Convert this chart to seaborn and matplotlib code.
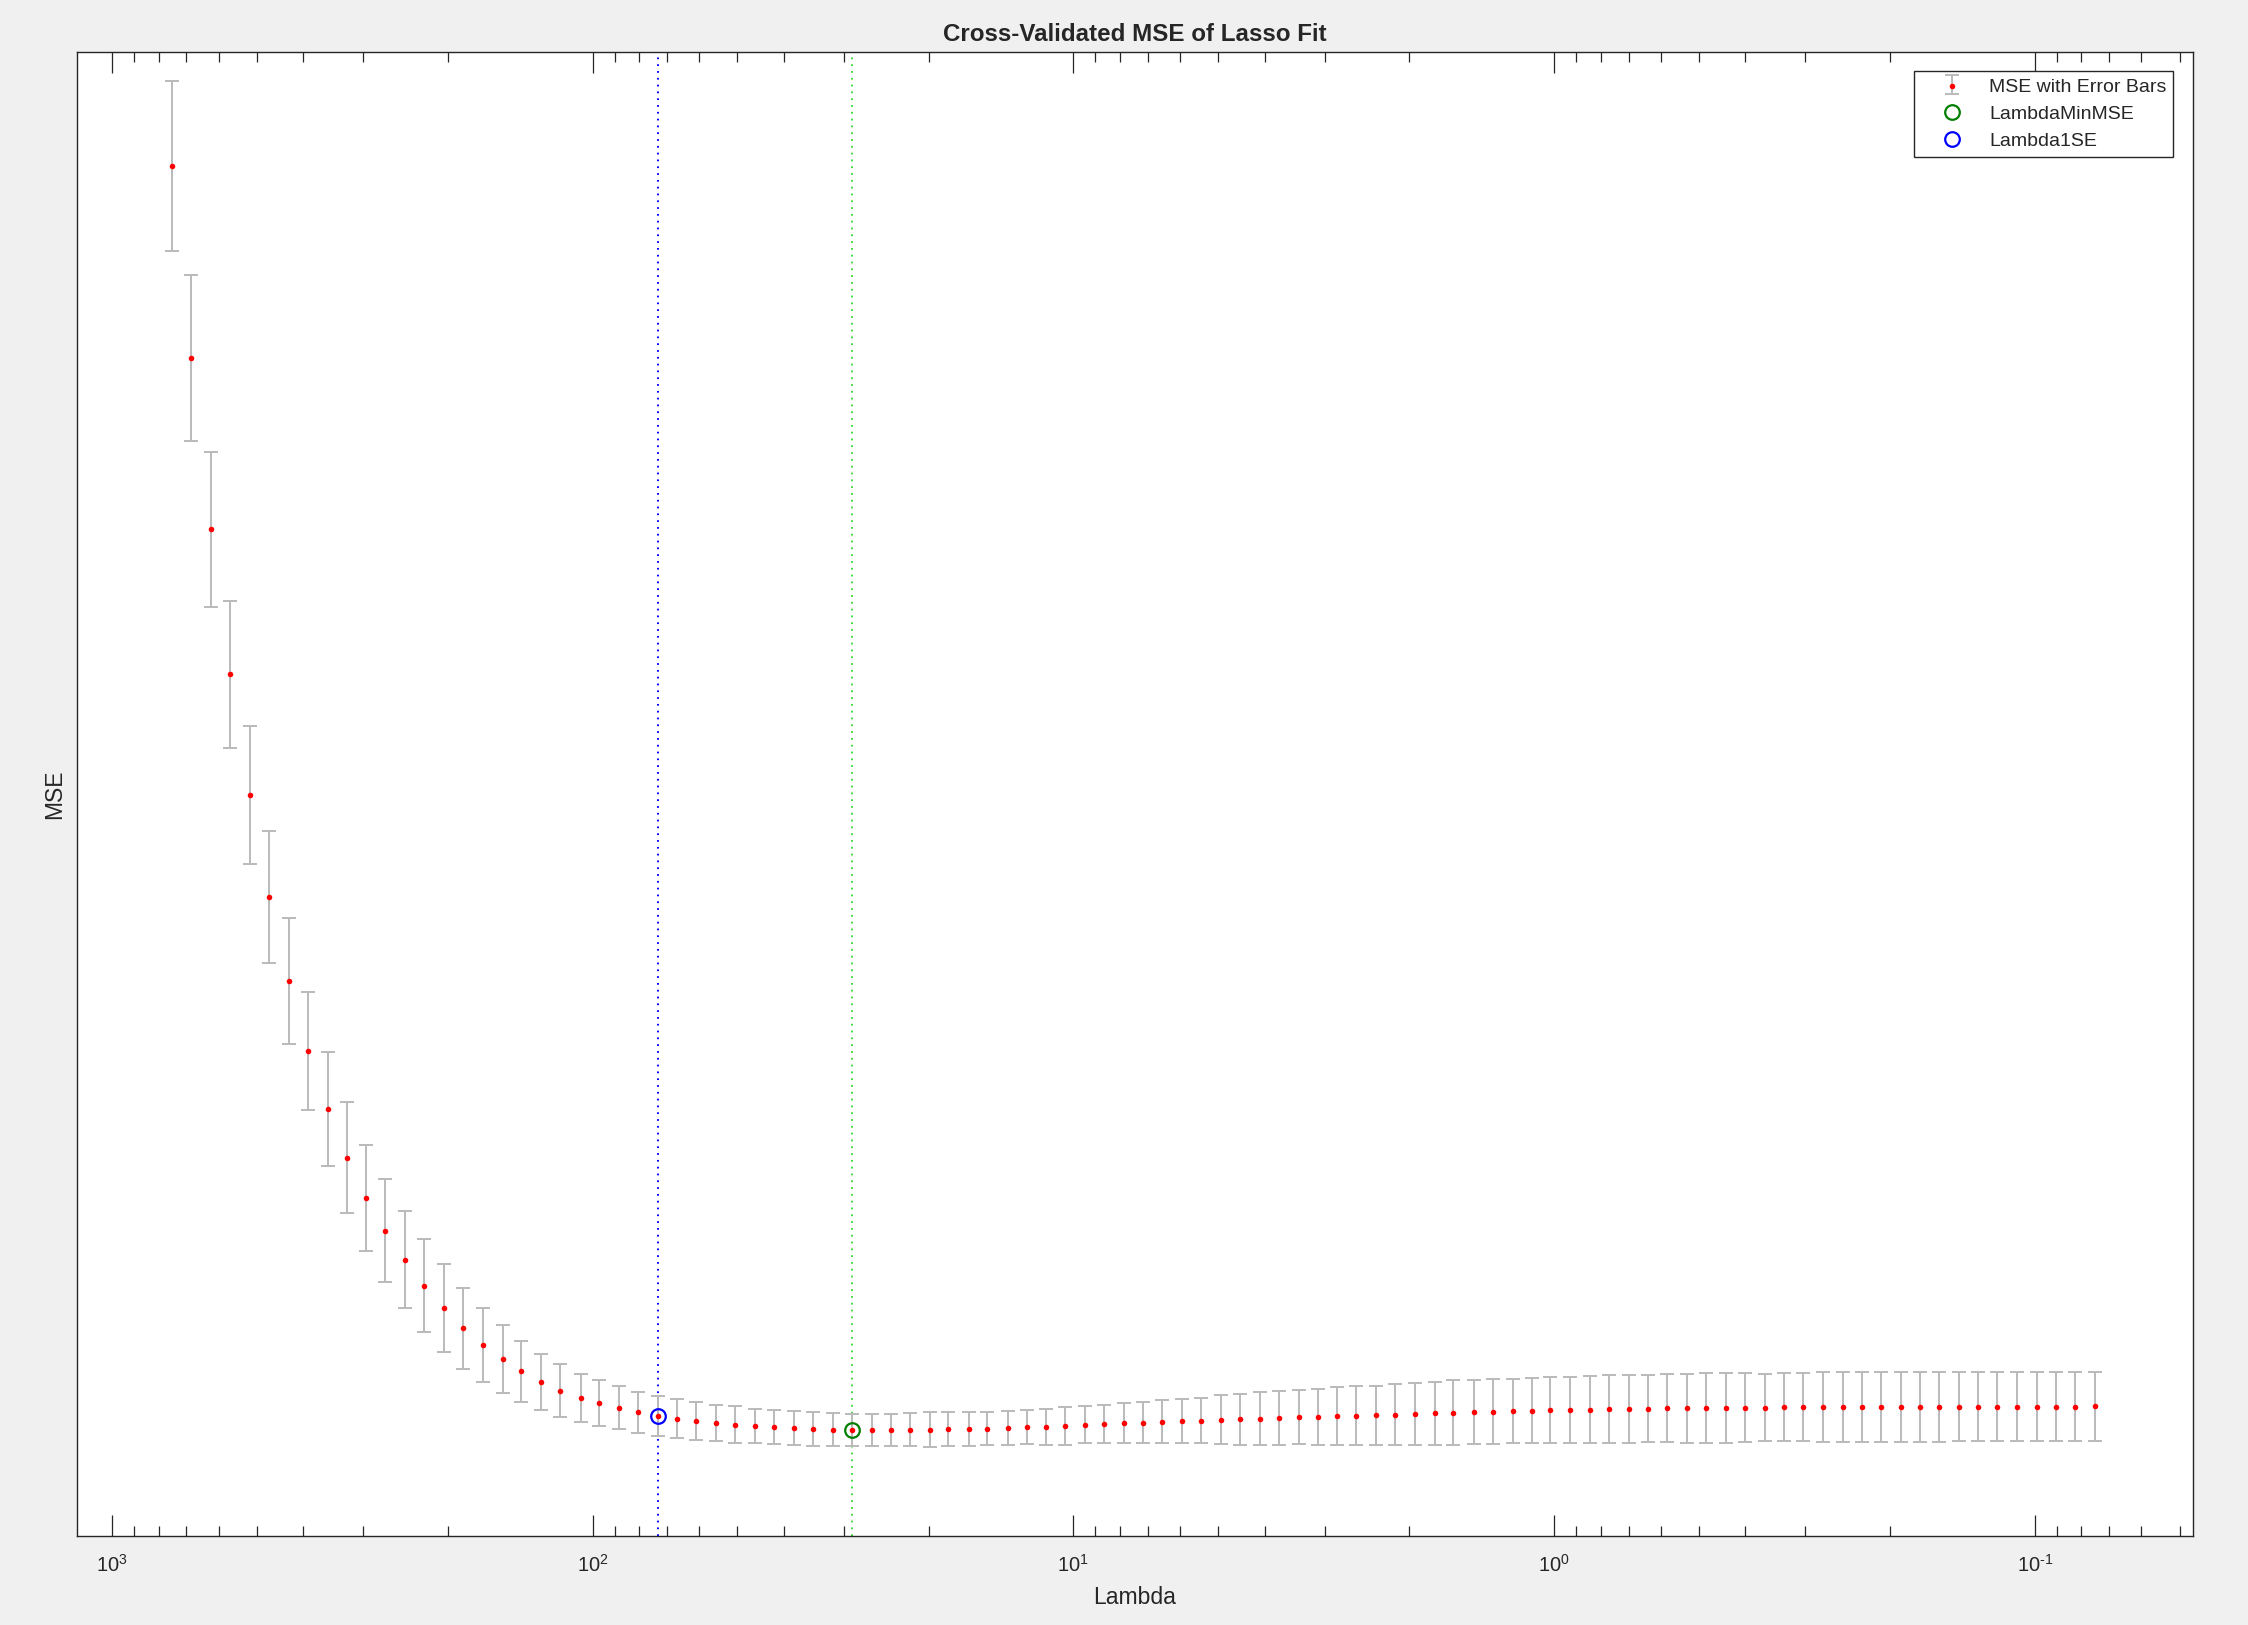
import matplotlib
matplotlib.use("Agg")
import matplotlib.pyplot as plt
from matplotlib.ticker import FuncFormatter
import seaborn as sns
import numpy as np

# Lambda grid (x) and cross-validated MSE with standard errors
lambdas = [750, 684, 623, 568, 517, 471, 429, 391, 356, 325,
           296, 270, 246, 224, 204, 186, 169, 154, 141, 128,
           117, 106, 96.9, 88.3, 80.5, 73.3, 66.8, 60.9, 55.5, 50.5,
           46.0, 42.0, 38.2, 34.8, 31.7, 28.9, 26.3, 24.0, 21.9, 19.9,
           18.2, 16.5, 15.1, 13.7, 12.5, 11.4, 10.4, 9.47, 8.63, 7.86,
           7.16, 6.53, 5.95, 5.42, 4.94, 4.50, 4.10, 3.74, 3.40, 3.10,
           2.83, 2.58, 2.35, 2.14, 1.95, 1.77, 1.62, 1.47, 1.34, 1.22,
           1.11, 1.02, 0.925, 0.843, 0.768, 0.700, 0.638, 0.581, 0.529, 0.482,
           0.440, 0.401, 0.365, 0.333, 0.303, 0.276, 0.251, 0.229, 0.209, 0.190,
           0.173, 0.158, 0.144, 0.131, 0.120, 0.109, 0.0992, 0.0905, 0.0824, 0.0751]

mse = [9.840, 8.504, 7.309, 6.296, 5.454, 4.745, 4.157, 3.668, 3.262, 2.925,
       2.646, 2.416, 2.214, 2.030, 1.877, 1.735, 1.619, 1.523, 1.435, 1.360,
       1.300, 1.251, 1.212, 1.179, 1.149, 1.123, 1.105, 1.088, 1.075, 1.063,
       1.052, 1.044, 1.037, 1.033, 1.028, 1.025, 1.026, 1.026, 1.028, 1.028,
       1.030, 1.033, 1.035, 1.040, 1.044, 1.047, 1.054, 1.063, 1.068, 1.072,
       1.077, 1.082, 1.086, 1.091, 1.096, 1.100, 1.105, 1.110, 1.114, 1.117,
       1.121, 1.126, 1.128, 1.133, 1.137, 1.142, 1.147, 1.151, 1.154, 1.158,
       1.161, 1.163, 1.165, 1.168, 1.170, 1.172, 1.175, 1.177, 1.177, 1.179,
       1.179, 1.182, 1.182, 1.184, 1.184, 1.186, 1.186, 1.186, 1.186, 1.186,
       1.186, 1.186, 1.189, 1.189, 1.189, 1.189, 1.189, 1.189, 1.189, 1.191]

se = [0.592, 0.580, 0.541, 0.512, 0.482, 0.460, 0.438, 0.414, 0.398, 0.386,
      0.369, 0.358, 0.341, 0.324, 0.306, 0.284, 0.259, 0.237, 0.214, 0.197,
      0.185, 0.168, 0.162, 0.150, 0.144, 0.140, 0.133, 0.133, 0.127, 0.127,
      0.120, 0.120, 0.120, 0.120, 0.114, 0.114, 0.114, 0.114, 0.114, 0.120,
      0.120, 0.120, 0.114, 0.120, 0.120, 0.126, 0.131, 0.132, 0.132, 0.138,
      0.143, 0.149, 0.155, 0.160, 0.172, 0.178, 0.184, 0.190, 0.190, 0.195,
      0.201, 0.207, 0.207, 0.213, 0.219, 0.219, 0.224, 0.224, 0.230, 0.225,
      0.225, 0.231, 0.231, 0.231, 0.236, 0.236, 0.236, 0.236, 0.242, 0.242,
      0.242, 0.242, 0.236, 0.236, 0.236, 0.242, 0.242, 0.242, 0.242, 0.242,
      0.242, 0.242, 0.242, 0.242, 0.242, 0.242, 0.242, 0.242, 0.242, 0.242]

# Style
sns.set_theme(style="white")
plt.rcParams['font.family'] = ['Liberation Sans', 'DejaVu Sans']
plt.rcParams['mathtext.fontset'] = 'custom'
plt.rcParams['mathtext.rm'] = 'Liberation Sans'
plt.rcParams['mathtext.it'] = 'Liberation Sans:italic'
plt.rcParams['mathtext.bf'] = 'Liberation Sans:bold'

# LambdaMinMSE and Lambda1SE
i_min = int(np.argmin(mse))
thresh = mse[i_min] + se[i_min]
i_1se = min(i for i in range(len(mse)) if mse[i] <= thresh)

fig = plt.figure(figsize=(22.48, 16.25), dpi=100, facecolor='#f0f0f0')
ax = fig.add_axes([0.0343, 0.0548, 0.9412, 0.9134])
ax.set_facecolor('white')

eb = ax.errorbar(lambdas, mse, yerr=se, fmt='none', ecolor='#bababa',
                 elinewidth=1.4, capsize=5, capthick=1.4, zorder=2)
dots = sns.scatterplot(x=lambdas, y=mse, ax=ax, color='#ff0000', s=16,
                       linewidth=0, zorder=3).collections[-1]

ax.axvline(lambdas[i_min], color='#3cd83c', lw=1.4, ls=(0, (0.9, 2.6)), zorder=1)
ax.axvline(lambdas[i_1se], color='#0000ff', lw=1.4, ls=(0, (0.9, 2.6)), zorder=1)
h_min, = ax.plot(lambdas[i_min], mse[i_min], 'o', mfc='none', mec='#007f00',
                 ms=10.5, mew=1.6, zorder=4)
h_1se, = ax.plot(lambdas[i_1se], mse[i_1se], 'o', mfc='none', mec='#0000ff',
                 ms=10.5, mew=1.6, zorder=4)

ax.set_xscale('log')
ax.set_xlim(1181.6, 0.0469)
ax.set_ylim(0.286, 10.64)
ax.set_yticks([])


def dec_label(v, pos):
    e = int(round(np.log10(v)))
    exp = r'\text{-}%d' % (-e) if e < 0 else '%d' % e
    return r'$\mathdefault{10^{%s}}$' % exp


ax.xaxis.set_major_formatter(FuncFormatter(dec_label))

for s in ax.spines.values():
    s.set_color('#262626')
    s.set_linewidth(1.0)
ax.tick_params(axis='x', which='both', direction='in', top=True, bottom=True,
               color='#262626', labelsize=14.5, pad=13, labelcolor='#262626')
ax.tick_params(axis='x', which='major', length=15, width=0.9)
ax.tick_params(axis='x', which='minor', length=7.5, width=0.9)

ax.set_title('Cross-Validated MSE of Lasso Fit', fontsize=17.4, fontweight='bold', pad=8)
ax.set_xlabel('Lambda', fontsize=16.5, labelpad=7, color='#262626')
ax.set_ylabel('MSE', fontsize=16.5, labelpad=8, color='#262626')

leg = ax.legend([(eb, dots), h_min, h_1se],
                ['MSE with Error Bars', 'LambdaMinMSE', 'Lambda1SE'],
                loc='upper right', fontsize=14, numpoints=1, scatterpoints=1,
                frameon=True, fancybox=False, framealpha=1, edgecolor='#262626',
                borderaxespad=1.0, borderpad=0.35, labelspacing=0.5,
                handlelength=3.2, handletextpad=0.3)
leg.get_frame().set_linewidth(1.0)

fig.savefig('out.png', dpi=100, facecolor=fig.get_facecolor())
